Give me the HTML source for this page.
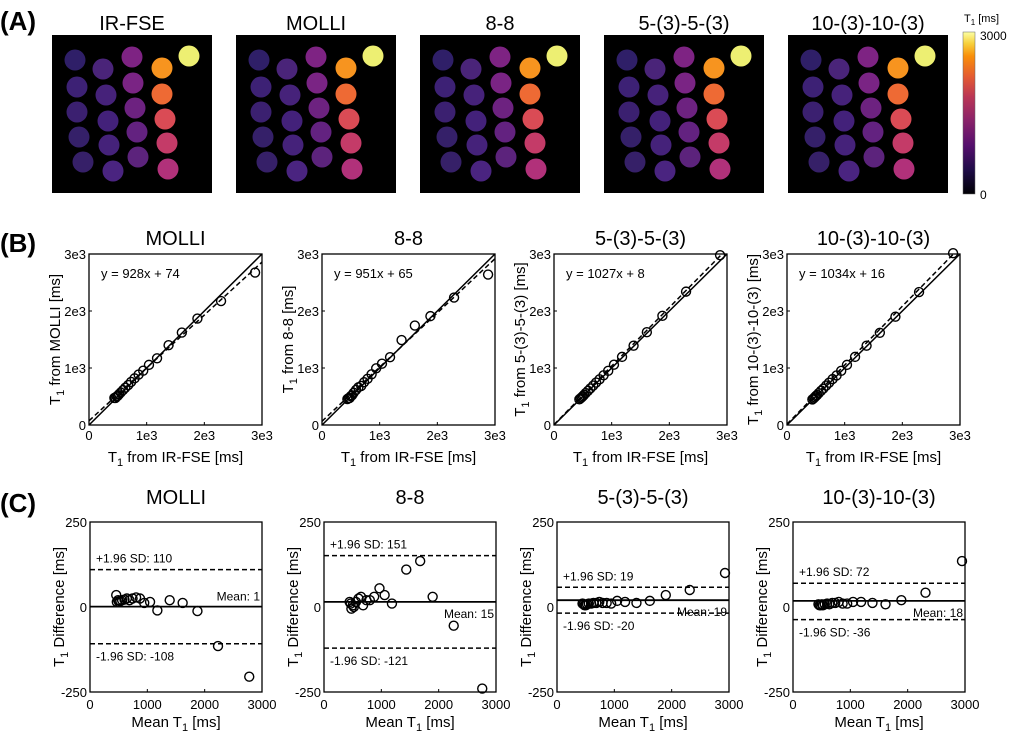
<!DOCTYPE html>
<html><head><meta charset="utf-8"><style>
body{margin:0;background:#fff}
svg{display:block;font-family:"Liberation Sans",sans-serif}
</style></head><body>
<svg id="fig" width="1009" height="736" viewBox="0 0 1009 736">
<defs>
<linearGradient id="inferno" x1="0" y1="1" x2="0" y2="0">
<stop offset="0" stop-color="#000004"/><stop offset="0.15" stop-color="#1f0c48"/><stop offset="0.3" stop-color="#550f6d"/>
<stop offset="0.45" stop-color="#88226a"/><stop offset="0.6" stop-color="#ba3655"/><stop offset="0.72" stop-color="#e35933"/>
<stop offset="0.85" stop-color="#f98e09"/><stop offset="0.93" stop-color="#f7d13d"/><stop offset="1" stop-color="#fcffa4"/>
</linearGradient>
</defs>
<text x="0" y="30" font-size="26" font-weight="bold">(A)</text>
<text x="0" y="252" font-size="26" font-weight="bold">(B)</text>
<text x="0" y="512" font-size="26" font-weight="bold">(C)</text>
<g id="panelA"></g>
<g id="colorbar">
<rect x="963" y="32" width="12" height="162" fill="url(#inferno)" stroke="#666" stroke-width="0.5"/>
<text x="964" y="22" font-size="11">T<tspan font-size="8" dy="3">1</tspan><tspan dy="-3"> [ms]</tspan></text>
<text x="980" y="40" font-size="12">3000</text>
<text x="980" y="199" font-size="12">0</text>
</g>
<g id="panelB"></g>
<g id="panelC"></g>
</svg>
<script>
const methods=['MOLLI','8-8','5-(3)-5-(3)','10-(3)-10-(3)'];
const mapTitles=['IR-FSE','MOLLI','8-8','5-(3)-5-(3)','10-(3)-10-(3)'];
const irfse=[440,460,480,500,520,550,590,630,680,730,790,860,940,1040,1180,1380,1610,1880,2290,2880];
const diffMolli=[35,15,20,15,18,20,22,25,20,25,28,25,12,15,-10,20,12,-12,-115,-205];
const diff88=[15,10,-5,5,0,15,25,30,5,20,20,30,55,35,10,110,135,30,-55,-240];
const diff535=[10,8,5,5,8,10,10,12,12,15,12,12,10,18,15,12,18,35,50,100];
const diff10310=[8,5,5,8,5,8,10,8,12,12,15,10,10,15,15,12,8,20,42,135];
const diffs=[diffMolli,diff88,diff535,diff10310];
const slopes=[0.928,0.951,1.027,1.034];
const intercepts=[74,65,8,16];
const meanDiff=[1,15,20,18];
const upperLoA=[110,151,58,70];
const lowerLoA=[-108,-121,-18,-37];
const meanLabels=['Mean: 1','Mean: 15','Mean: 19','Mean: 18'];
const upperLabels=['+1.96 SD: 110','+1.96 SD: 151','+1.96 SD: 19','+1.96 SD: 72'];
const lowerLabels=['-1.96 SD: -108','-1.96 SD: -121','-1.96 SD: -20','-1.96 SD: -36'];
const bTicks=['0','1e3','2e3','3e3'];
const cXTicks=['0','1000','2000','3000'];
const cYTicks=['-250','0','250'];
const tubeColors=['#2f1f68','#3d2175','#3b2070','#352069','#362068',
 '#4a2479','#46227a','#43217a','#45227a','#4a2480',
 '#7e2383','#7a2484','#6d2280','#632280','#5c237c',
 '#f7941f','#ee6a34','#da4b55','#c43b68','#b1317a','#edef72'];
const NS='http://www.w3.org/2000/svg';
function mk(tag,attrs,parent){const e=document.createElementNS(NS,tag);for(const k in attrs)e.setAttribute(k,attrs[k]);parent.appendChild(e);return e;}
// Panel A
const A=document.getElementById('panelA');
const tubePos=[[23,25],[25,52],[25,77],[27,102],[31,127],[51,34],[54,60],[56,86],[57,110],[61,136],[80,22],[81,48],[83,73],[85,97],[86,122],[110,33],[110,59],[113,84],[115,108],[116,134],[137,21]];
const mapX=[52,236,420,604,788];
mapTitles.forEach((t,i)=>{
 const g=mk('g',{},A);
 
 
 const tt=mk('text',{x:mapX[i]+80,y:30,'font-size':20,'text-anchor':'middle'},g);tt.textContent=t;
 
 
 mk('rect',{x:mapX[i],y:35,width:160,height:158,fill:'#000'},g);
 tubePos.forEach((p,j)=>{const c=mk('circle',{cx:mapX[i]+p[0],cy:35+p[1],r:10.5,fill:tubeColors[j]},g);
  
  });
});
// Panel B
const B=document.getElementById('panelB');
const bX=[89,322,554,787],bY=254,bW=173,bH=171;
methods.forEach((m,i)=>{
 const g=mk('g',{},B);
 
 
 const x0=bX[i];
 const sx=v=>x0+v/3000*bW, sy=v=>bY+bH-v/3000*bH;
 const ti=mk('text',{x:x0+bW/2,y:245,'font-size':20,'text-anchor':'middle'},g);ti.textContent=m;
 
 
 const cp='cb'+i;const cl=mk('clipPath',{id:cp},g);mk('rect',{x:x0,y:bY,width:bW,height:bH},cl);
 const id=mk('line',{x1:sx(0),y1:sy(0),x2:sx(3000),y2:sy(3000),stroke:'#000','stroke-width':1.5,'clip-path':'url(#'+cp+')'},g);
 
 
 const rl=mk('line',{x1:sx(0),y1:sy(intercepts[i]),x2:sx(3000),y2:sy(slopes[i]*3000+intercepts[i]),stroke:'#000','stroke-width':1.5,'stroke-dasharray':'5,3','clip-path':'url(#'+cp+')'},g);
 
 
 irfse.forEach((v,j)=>{const c=mk('circle',{cx:sx(v),cy:sy(v+diffs[i][j]),r:4.5,fill:'none',stroke:'#000','stroke-width':1.4},g);
  
  });
 mk('rect',{x:x0,y:bY,width:bW,height:bH,fill:'none',stroke:'#000','stroke-width':1.3},g);
 const eq=mk('text',{x:x0+12,y:bY+24,'font-size':13},g);eq.textContent='y = '+Math.round(slopes[i]*1000)+'x + '+intercepts[i];
 
 
 bTicks.forEach((t,k)=>{const v=k*1000;
  const a=mk('text',{x:sx(v),y:bY+bH+15,'font-size':13,'text-anchor':'middle'},g);a.textContent=t;
  
  
  const b=mk('text',{x:x0-3,y:sy(v)+5,'font-size':13,'text-anchor':'end'},g);b.textContent=t;
  
  
  mk('line',{x1:sx(v),y1:bY+bH,x2:sx(v),y2:bY+bH-3,stroke:'#000'},g);
  mk('line',{x1:x0,y1:sy(v),x2:x0+3,y2:sy(v),stroke:'#000'},g);});
 const xl=mk('text',{x:x0+bW/2,y:462,'font-size':15,'text-anchor':'middle'},g);
 xl.innerHTML='T<tspan font-size="11" dy="4">1</tspan><tspan dy="-4"> from IR-FSE [ms]</tspan>';
 
 
 const yl=mk('text',{x:0,y:0,'font-size':15,'text-anchor':'middle',transform:'translate('+(x0-29)+','+(bY+bH/2)+') rotate(-90)'},g);
 yl.innerHTML='T<tspan font-size="11" dy="4">1</tspan><tspan dy="-4"> from '+m+' [ms]</tspan>';
 
 
});
// Panel C
const C=document.getElementById('panelC');
const cX=[90,324,557,793],cY=522,cW=172,cH=170;
methods.forEach((m,i)=>{
 const g=mk('g',{},C);
 
 
 const x0=cX[i];
 const sx=v=>x0+v/3000*cW, sy=v=>cY+cH/2-v/500*cH;
 const ti=mk('text',{x:x0+cW/2,y:504,'font-size':20,'text-anchor':'middle'},g);ti.textContent=m;
 
 
 const ml=mk('line',{x1:x0,y1:sy(meanDiff[i]),x2:x0+cW,y2:sy(meanDiff[i]),stroke:'#000','stroke-width':1.8},g);
 
 
 const ul=mk('line',{x1:x0,y1:sy(upperLoA[i]),x2:x0+cW,y2:sy(upperLoA[i]),stroke:'#000','stroke-width':1.5,'stroke-dasharray':'5,3'},g);
 
 
 const ll=mk('line',{x1:x0,y1:sy(lowerLoA[i]),x2:x0+cW,y2:sy(lowerLoA[i]),stroke:'#000','stroke-width':1.5,'stroke-dasharray':'5,3'},g);
 
 
 irfse.forEach((v,j)=>{const d=diffs[i][j];
  const c=mk('circle',{cx:sx(v+d/2),cy:sy(d),r:4.5,fill:'none',stroke:'#000','stroke-width':1.4},g);
  
  });
 mk('rect',{x:x0,y:cY,width:cW,height:cH,fill:'none',stroke:'#000','stroke-width':1.3},g);
 const ut=mk('text',{x:x0+6,y:sy(upperLoA[i])-7,'font-size':12},g);ut.textContent=upperLabels[i];
 
 
 const lt=mk('text',{x:x0+6,y:sy(lowerLoA[i])+17,'font-size':12},g);lt.textContent=lowerLabels[i];
 
 
 const mt=mk('text',{x:x0+cW-2,y:i===0?sy(meanDiff[i])-6:sy(meanDiff[i])+16,'font-size':12,'text-anchor':'end'},g);mt.textContent=meanLabels[i];
 
 
 cXTicks.forEach((t,k)=>{const v=k*1000;
  const a=mk('text',{x:sx(v),y:cY+cH+17,'font-size':13,'text-anchor':'middle'},g);a.textContent=t;
  
  
  mk('line',{x1:sx(v),y1:cY+cH,x2:sx(v),y2:cY+cH-3,stroke:'#000'},g);});
 cYTicks.forEach(t=>{const v=+t;
  const b=mk('text',{x:x0-3,y:sy(v)+5,'font-size':13,'text-anchor':'end'},g);b.textContent=t;
  
  });
 const xl=mk('text',{x:x0+cW/2,y:727,'font-size':15,'text-anchor':'middle'},g);
 xl.innerHTML='Mean T<tspan font-size="11" dy="4">1</tspan><tspan dy="-4"> [ms]</tspan>';
 
 
 const yl=mk('text',{x:0,y:0,'font-size':15,'text-anchor':'middle',transform:'translate('+(x0-26)+','+(cY+cH/2)+') rotate(-90)'},g);
 yl.innerHTML='T<tspan font-size="11" dy="4">1</tspan><tspan dy="-4"> Difference [ms]</tspan>';
 
 
});
</script>
</body></html>
